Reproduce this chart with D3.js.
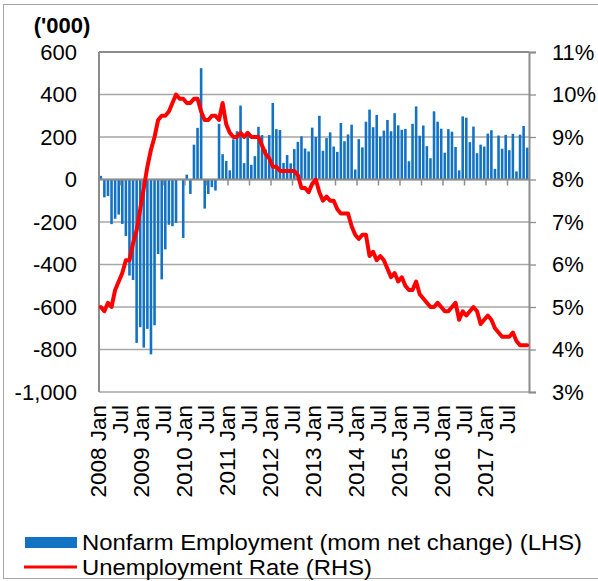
<!DOCTYPE html>
<html>
<head>
<meta charset="utf-8">
<script src="https://cdn.jsdelivr.net/npm/d3@7"></script>
<style>
  body { margin: 0; background: #fff; }
  svg { display: block; font-family: "Liberation Sans", Arial, sans-serif; }
</style>
</head>
<body>
<div id="chart"></div>
<script>
// years shown on the category axis
const years = [2008, 2009, 2010, 2011, 2012, 2013, 2014, 2015, 2016, 2017];
const monthNames = ["Jan", "Feb", "Mar", "Apr", "May", "Jun", "Jul", "Aug", "Sep", "Oct", "Nov", "Dec"];

// Nonfarm employment, month-on-month net change ('000), Jan 2008 - Dec 2017
const payrolls = [
  17, -84, -78, -210, -185, -165, -209, -266, -452, -473, -769, -695,
  -791, -703, -823, -686, -351, -470, -329, -213, -220, -204, 2, -275,
  23, -68, 164, 243, 524, -137, -68, -36, -52, 262, 119, 87,
  43, 189, 227, 348, 77, 215, 69, 110, 248, 209, 141, 209,
  360, 237, 233, 78, 115, 76, 143, 177, 203, 146, 132, 244,
  200, 300, 135, 195, 222, 155, 130, 266, 180, 212, 258, 47,
  190, 151, 272, 329, 246, 304, 202, 230, 280, 227, 312, 255,
  234, 238, 86, 262, 344, 206, 254, 157, 100, 321, 272, 239,
  126, 237, 225, 153, 43, 297, 291, 176, 249, 124, 164, 155,
  216, 232, 50, 207, 145, 210, 138, 215, 38, 211, 252, 150
];

// Unemployment rate (%), Jan 2008 - Dec 2017
const unemployment = [
  5.0, 4.9, 5.1, 5.0, 5.4, 5.6, 5.8, 6.1, 6.1, 6.5, 6.8, 7.3,
  7.8, 8.3, 8.7, 9.0, 9.4, 9.5, 9.5, 9.6, 9.8, 10.0, 9.9, 9.9,
  9.8, 9.8, 9.9, 9.9, 9.6, 9.4, 9.4, 9.5, 9.5, 9.4, 9.8, 9.3,
  9.1, 9.0, 9.0, 9.1, 9.0, 9.1, 9.0, 9.0, 9.0, 8.8, 8.6, 8.5,
  8.3, 8.3, 8.2, 8.2, 8.2, 8.2, 8.2, 8.1, 7.8, 7.8, 7.7, 7.9,
  8.0, 7.7, 7.5, 7.6, 7.5, 7.5, 7.3, 7.2, 7.2, 7.2, 6.9, 6.7,
  6.6, 6.7, 6.7, 6.2, 6.3, 6.1, 6.2, 6.1, 5.9, 5.7, 5.8, 5.6,
  5.7, 5.5, 5.4, 5.4, 5.6, 5.3, 5.2, 5.1, 5.0, 5.0, 5.1, 5.0,
  4.9, 4.9, 5.0, 5.1, 4.7, 4.9, 4.8, 4.9, 5.0, 4.9, 4.6, 4.7,
  4.8, 4.7, 4.5, 4.4, 4.3, 4.3, 4.3, 4.4, 4.2, 4.1, 4.1, 4.1
];

const leftTicks = [-1000, -800, -600, -400, -200, 0, 200, 400, 600];
const rightTicks = [3, 4, 5, 6, 7, 8, 9, 10, 11];

const seriesNames = ["Nonfarm Employment (mom net change) (LHS)", "Unemployment Rate (RHS)"];

drawChart();

function drawChart() {
  const width = 598, height = 581;
  const plot = {left: 99, right: 529, top: 52, bottom: 392};

  // one category per month, labelled "2008 Jan", "Jul", ...
  const months = [];
  years.forEach(y => monthNames.forEach((m, i) => months.push({year: y, month: i, name: m})));

  const fmt = d3.formatLocale({decimal: ".", thousands: ",", grouping: [3], currency: ["$", ""], minus: "-"}).format(",");

  const svg = d3.select("#chart").append("svg")
    .attr("width", width)
    .attr("height", height);

  // outer chart frame
  svg.append("rect")
    .attr("x", 3.5).attr("y", 4.5)
    .attr("width", width + 10).attr("height", 574)
    .attr("fill", "none")
    .attr("stroke", "#a6a6a6")
    .attr("stroke-width", 1);

  const x = d3.scaleBand()
    .domain(d3.range(months.length))
    .range([plot.left, plot.right])
    .paddingInner(0.28)
    .paddingOuter(0.14);

  const yL = d3.scaleLinear().domain([-1000, 600]).range([plot.bottom, plot.top]);
  const yR = d3.scaleLinear().domain([3, 11]).range([plot.bottom, plot.top]);

  // horizontal gridlines
  svg.append("g")
    .selectAll("line")
    .data(leftTicks)
    .enter().append("line")
    .attr("x1", plot.left).attr("x2", plot.right)
    .attr("y1", d => yL(d)).attr("y2", d => yL(d))
    .attr("stroke", d => d === 600 ? "#8c8c8c" : "#a6a6a6")
    .attr("stroke-width", d => d === 600 ? 2 : 1.3);

  // bars
  svg.append("g")
    .selectAll("rect")
    .data(payrolls)
    .enter().append("rect")
    .attr("x", (d, i) => x(i))
    .attr("width", x.bandwidth())
    .attr("y", d => yL(Math.max(0, d)))
    .attr("height", d => Math.abs(yL(d) - yL(0)))
    .attr("fill", "#1272c4");

  // zero axis with tick marks every 6 months
  const step = x.step();
  const zeroY = yL(0);
  svg.append("line")
    .attr("x1", plot.left).attr("x2", plot.right)
    .attr("y1", zeroY).attr("y2", zeroY)
    .attr("stroke", "#8c8c8c").attr("stroke-width", 2);
  const tickIdx = d3.range(0, months.length, 6);
  svg.append("g")
    .selectAll("line")
    .data(tickIdx)
    .enter().append("line")
    .attr("x1", d => plot.left + d * step).attr("x2", d => plot.left + d * step)
    .attr("y1", zeroY).attr("y2", zeroY + 6)
    .attr("stroke", "#8c8c8c").attr("stroke-width", 1.5);

  // left and right axis lines
  svg.append("line")
    .attr("x1", plot.left).attr("x2", plot.left)
    .attr("y1", plot.top).attr("y2", plot.bottom)
    .attr("stroke", "#8c8c8c").attr("stroke-width", 2);

  const right = svg.append("g")
    .attr("transform", `translate(${plot.right},0)`)
    .call(d3.axisRight(yR).tickValues(rightTicks).tickSize(7).tickPadding(16).tickFormat(d => d + "%"));
  right.select(".domain").attr("stroke", "#8c8c8c").attr("stroke-width", 2);
  right.selectAll(".tick line").attr("stroke", "#8c8c8c").attr("stroke-width", 1.3);
  right.selectAll("text").attr("font-size", "22px").attr("fill", "#000")
    .attr("font-family", "Liberation Sans, Arial, sans-serif");

  const left = svg.append("g")
    .attr("transform", `translate(${plot.left},0)`)
    .call(d3.axisLeft(yL).tickValues(leftTicks).tickSize(0).tickPadding(22).tickFormat(fmt));
  left.select(".domain").remove();
  left.selectAll("text").attr("font-size", "22px").attr("fill", "#000")
    .attr("font-family", "Liberation Sans, Arial, sans-serif");

  // unemployment line
  const line = d3.line()
    .x((d, i) => x(i) + x.bandwidth() / 2)
    .y(d => yR(d));
  svg.append("path")
    .datum(unemployment)
    .attr("d", line)
    .attr("fill", "none")
    .attr("stroke", "#ff0000")
    .attr("stroke-width", 4)
    .attr("stroke-linejoin", "round")
    .attr("stroke-linecap", "round");

  // unit label
  svg.append("text")
    .attr("x", 62).attr("y", 33)
    .attr("text-anchor", "middle")
    .attr("font-size", "22px")
    .attr("font-weight", "bold")
    .text("('000)");

  // rotated month labels
  svg.append("g")
    .selectAll("text")
    .data(tickIdx)
    .enter().append("text")
    .attr("transform", d => `translate(${plot.left + d * step - 1},405) rotate(-90)`)
    .attr("text-anchor", "end")
    .attr("dy", "0.36em")
    .attr("font-size", "22.5px")
    .text(d => months[d].month === 0 ? months[d].year + " " + months[d].name : months[d].name);

  // legend: glyphs a bit wider than tall, as in the source image
  const legendWidths = [500, 290];
  const legend = svg.append("g").attr("id", "legend");
  legend.append("rect")
    .attr("x", 25).attr("y", 537)
    .attr("width", 52).attr("height", 11)
    .attr("fill", "#1272c4");
  legend.append("line")
    .attr("x1", 24).attr("x2", 77)
    .attr("y1", 567).attr("y2", 567)
    .attr("stroke", "#ff0000").attr("stroke-width", 3);
  legend.selectAll("text")
    .data(seriesNames)
    .enter().append("text")
    .attr("x", 82)
    .attr("y", (d, i) => 549.5 + i * 25.5)
    .attr("font-size", "22px")
    .attr("textLength", (d, i) => legendWidths[i])
    .attr("lengthAdjust", "spacingAndGlyphs")
    .text(d => d);
}
</script>
</body>
</html>
